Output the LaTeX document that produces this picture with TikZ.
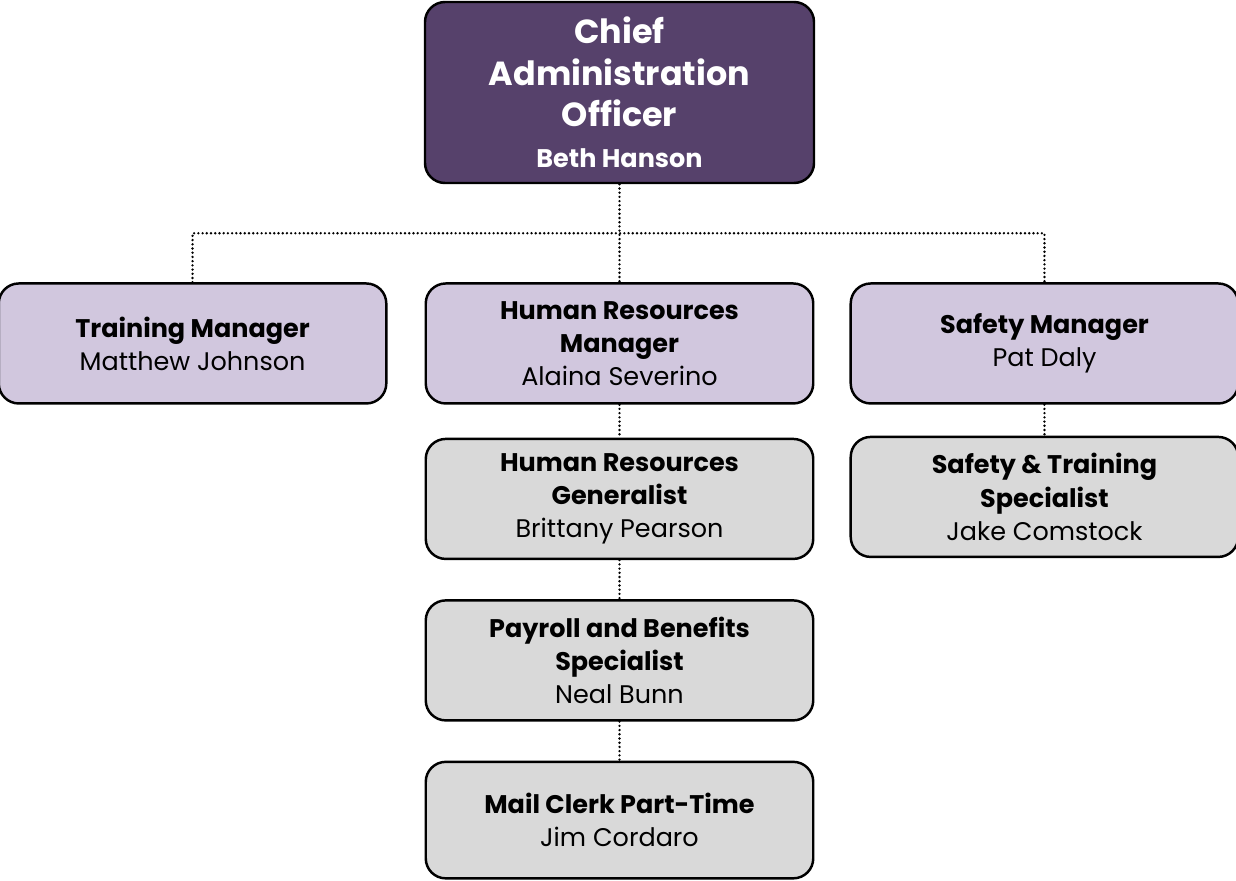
\documentclass[tikz,border=0pt]{standalone}
\usepackage{fontspec}
\setmainfont{Poppins}
\setsansfont{Poppins}
\usetikzlibrary{positioning,calc}
\definecolor{chiefpurple}{RGB}{86,65,107}
\definecolor{mgrlilac}{RGB}{209,199,222}
\definecolor{staffgray}{RGB}{217,217,217}

\begin{document}
\begin{tikzpicture}[node distance=0.66cm, font=\sffamily,
	orgbox/.style={draw,line width=1.4pt,rounded corners=0.4cm,minimum width=7.75cm,minimum height=2.4cm,align=center,font=\sffamily\fontsize{14.5}{18.8}\selectfont},
	chiefbox/.style={orgbox,fill=chiefpurple,text=white,minimum height=3.62cm,minimum width=7.78cm,font=\sffamily\bfseries\fontsize{19}{23.6}\selectfont},
	mgrbox/.style={orgbox,fill=mgrlilac},
	staffbox/.style={orgbox,fill=staffgray},
	link/.style={line width=1.5pt,line cap=round,dash pattern=on 0pt off 2.4pt}]
	\useasboundingbox (0,0) rectangle (24.72,-17.6);
	
	\node[chiefbox] (chief) at (12.39,-1.85) {Chief\\Administration\\Officer\\{\fontsize{14.5}{23.6}\selectfont Beth Hanson}};
	
	\node[mgrbox,below=1.96cm of chief] (hrmgr) {\textbf{Human Resources}\\\textbf{Manager}\\Alaina Severino};
	\node[mgrbox,left=0.74cm of hrmgr] (trainmgr) {\textbf{Training Manager}\\Matthew Johnson};
	\node[mgrbox,right=0.7cm of hrmgr] (safetymgr) {\textbf{Safety Manager}\\Pat Daly};
	
	\node[staffbox,below=of hrmgr] (hrgen) {\textbf{Human Resources}\\\textbf{Generalist}\\Brittany Pearson};
	\node[staffbox,below=0.78cm of hrgen] (payroll) {\textbf{Payroll and Benefits}\\\textbf{Specialist}\\Neal Bunn};
	\node[staffbox,below=0.78cm of payroll,minimum height=2.33cm] (mail) {\textbf{Mail Clerk Part-Time}\\Jim Cordaro};
	\node[staffbox,below=0.62cm of safetymgr] (safespec) {\textbf{Safety \& Training}\\\textbf{Specialist}\\Jake Comstock};
	
	\coordinate (bus) at ($(chief.south)!0.5!(hrmgr.north)$);
	\draw[link] (chief) -- (hrmgr);
	\draw[link] (trainmgr.north) |- (bus) -| (safetymgr.north);
	
	\draw[link] (hrmgr) -- (hrgen);
	\draw[link] (hrgen) -- (payroll);
	\draw[link] (payroll) -- (mail);
	\draw[link] (safetymgr) -- (safespec);
\end{tikzpicture}
\end{document}
